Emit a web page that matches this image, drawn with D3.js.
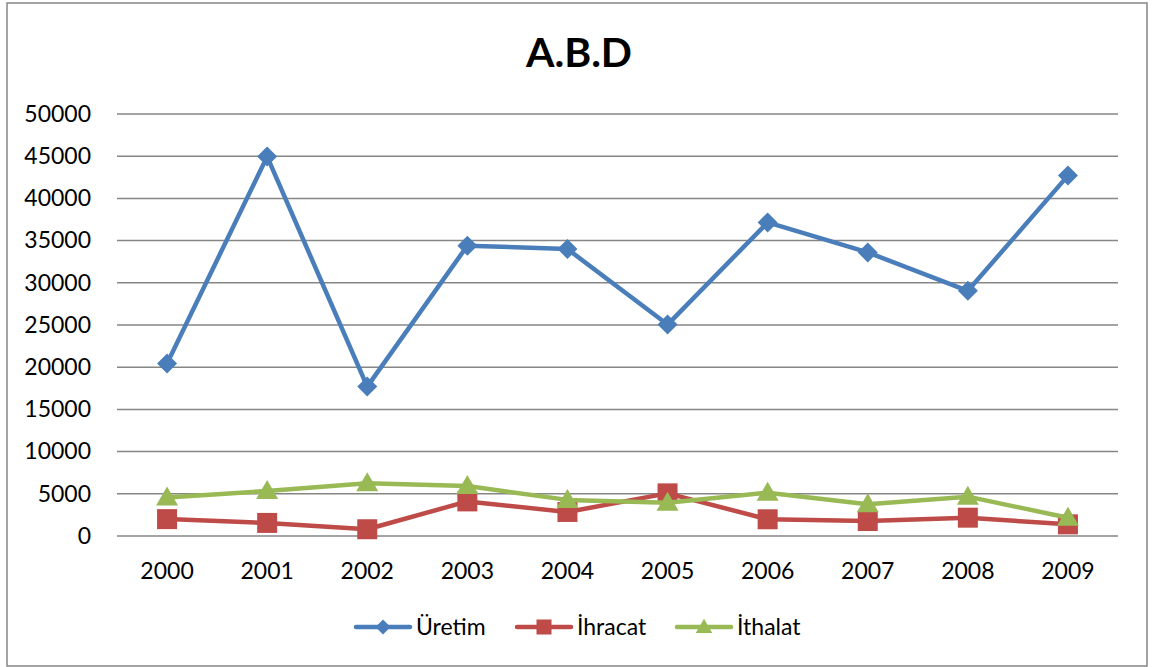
<!DOCTYPE html>
<html>
<head>
<meta charset="utf-8">
<script src="https://cdn.jsdelivr.net/npm/d3@7"></script>
<style>
  body { margin: 0; background: #fff; }
  svg { display: block; font-family: Lato, "Open Sans", sans-serif; }
</style>
</head>
<body>
<svg></svg>
<script>
// data
const years = ['2000', '2001', '2002', '2003', '2004', '2005', '2006', '2007', '2008', '2009']
const uretim = [20450, 44950, 17700, 34400, 34000, 25050, 37150, 33600, 29050, 42700]
const ihracat = [2000, 1550, 800, 4100, 2850, 5050, 1980, 1780, 2170, 1380]
const ithalat = [4550, 5330, 6250, 5920, 4280, 3950, 5130, 3750, 4660, 2170]
const yTicks = [0, 5000, 10000, 15000, 20000, 25000, 30000, 35000, 40000, 45000, 50000]
const seriesNames = ['Üretim', 'İhracat', 'İthalat']

const width = 1152, height = 667
const svg = d3.select('svg').attr('width', width).attr('height', height)

// chart frame
svg.append('rect')
    .attr('x', 7).attr('y', 3)
    .attr('width', 1140).attr('height', 663)
    .attr('fill', '#fff')
    .attr('stroke', '#868686')
    .attr('stroke-width', 1.5)

// title
svg.append('text')
    .attr('x', 579).attr('y', 67)
    .attr('text-anchor', 'middle')
    .attr('font-size', 41)
    .attr('font-weight', 'bold')
    .text('A.B.D')

let x = d3.scaleBand().domain(years).range([117, 1118])
let y = d3.scaleLinear().domain([0, 50000]).range([536, 114])

// gridlines
svg.append('g')
    .selectAll('line')
    .data(yTicks)
    .enter().append('line')
    .attr('x1', 117).attr('x2', 1118)
    .attr('y1', d => y(d)).attr('y2', d => y(d))
    .attr('stroke', '#868686')
    .attr('stroke-width', 1.5)

// y axis labels
let yAxis = svg.append('g')
    .attr('transform', 'translate(91,0)')
    .call(d3.axisLeft(y).tickValues(yTicks).tickSize(0).tickPadding(0).tickFormat(d3.format('d')))
yAxis.select('.domain').remove()
yAxis.selectAll('text').attr('font-size', 23).attr('font-family', 'Lato').attr('fill', '#000')

// x axis labels
let xAxis = svg.append('g')
    .attr('transform', 'translate(0,563)')
    .call(d3.axisBottom(x).tickSize(0).tickPadding(0))
xAxis.select('.domain').remove()
xAxis.selectAll('text').attr('font-size', 23).attr('font-family', 'Lato').attr('fill', '#000')

const cx = d => x(d) + x.bandwidth() / 2

// markers
const diamond = d3.symbol().type(d3.symbolSquare).size(200)
const square = d3.symbol().type(d3.symbolSquare).size(400)
const triangle = 'M0,-11L11,8L-11,8Z'

const series = [
    { name: seriesNames[0], values: uretim, color: '#4A7EBB', marker: diamond(), rotate: 45 },
    { name: seriesNames[1], values: ihracat, color: '#BE4B48', marker: square(), rotate: 0 },
    { name: seriesNames[2], values: ithalat, color: '#98B954', marker: triangle, rotate: 0 }
]

let line = d3.line()
    .x((d, i) => cx(years[i]))
    .y(d => y(d))

series.forEach(s => {
    let g = svg.append('g')
    g.append('path')
        .attr('d', line(s.values))
        .attr('fill', 'none')
        .attr('stroke', s.color)
        .attr('stroke-width', 4.5)
        .attr('stroke-linejoin', 'round')
        .attr('stroke-linecap', 'round')
    g.selectAll('path.m')
        .data(s.values)
        .enter().append('path')
        .attr('class', 'm')
        .attr('d', s.marker)
        .attr('transform', (d, i) => 'translate(' + cx(years[i]) + ',' + y(d) + ') rotate(' + s.rotate + ')')
        .attr('fill', s.color)
})

// legend
const legendX = [356, 517, 677]
let legend = svg.append('g')
series.forEach((s, i) => {
    let lg = legend.append('g').attr('transform', 'translate(' + legendX[i] + ',627)')
    lg.append('line')
        .attr('x1', 0).attr('x2', 54)
        .attr('stroke', s.color)
        .attr('stroke-width', 4.5)
        .attr('stroke-linecap', 'round')
    lg.append('path')
        .attr('d', s.marker)
        .attr('transform', 'translate(27,0) rotate(' + s.rotate + ') scale(0.75)')
        .attr('fill', s.color)
    lg.append('text')
        .attr('x', 60).attr('y', 8)
        .attr('font-size', 23)
        .text(s.name)
})
</script>
</body>
</html>
